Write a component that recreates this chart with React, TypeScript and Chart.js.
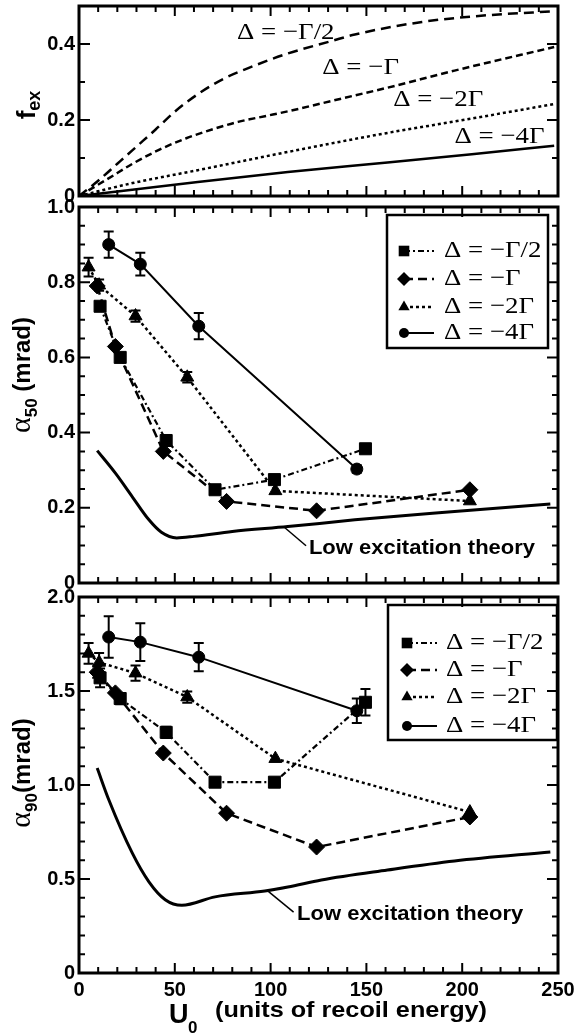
import React, { useEffect, useRef } from "react";
import { Chart, registerables } from "chart.js";

Chart.register(...registerables);

// ---------------- shared x axis ----------------
const X_MIN = 0;
const X_MAX = 250;
const X_STEP = 50;
const X_MINOR = 10;

// ---------------- panel 1 : f_ex ----------------
const FEX_TICKS = [0, 0.2, 0.4];
const fexHalfU = [0, 10, 20, 30, 40, 50, 62, 76, 88, 109, 132, 144, 179, 214, 248];
const fexHalf = [0, 0.04, 0.085, 0.13, 0.175, 0.222, 0.268, 0.31, 0.336, 0.375, 0.408, 0.425, 0.458, 0.476, 0.486];
const fexOneU = [0, 15, 28, 42, 56, 70, 83, 97, 110, 135, 161, 196, 248];
const fexOne = [0, 0.045, 0.085, 0.122, 0.152, 0.176, 0.195, 0.21, 0.224, 0.254, 0.285, 0.33, 0.392];
const fexTwoU = [0, 28, 62, 109, 161, 196, 248];
const fexTwo = [0, 0.034, 0.068, 0.116, 0.166, 0.196, 0.242];
const fexFourU = [0, 30, 62, 109, 161, 205, 248];
const fexFour = [0, 0.018, 0.037, 0.063, 0.088, 0.11, 0.132];

const DETUNING_LABELS = ["Δ = −Γ/2", "Δ = −Γ", "Δ = −2Γ", "Δ = −4Γ"];
const fexLabelU = [82.5, 127, 164, 196];
const fexLabelV = [0.429, 0.337, 0.253, 0.155];

// ---------------- measured detunings ----------------
const uHalf = [11, 21.5, 45.5, 71, 102, 149.5];
const uOne = [9.5, 19, 44, 77, 124, 204];
const uTwo = [5, 10.5, 29.5, 56.5, 102.5, 204];
const uFour = [15.5, 32, 62.5, 145];

// ---------------- panel 2 : alpha_50 ----------------
const A50_TICKS = [0, 0.2, 0.4, 0.6, 0.8, 1.0];
const a50Half = [0.736, 0.6, 0.379, 0.248, 0.275, 0.357];
const a50One = [0.79, 0.629, 0.35, 0.217, 0.192, 0.248];
const a50Two = [0.84, 0.792, 0.71, 0.547, 0.245, 0.218];
const a50Four = [0.9, 0.848, 0.683, 0.303];
const e50Half = [0.01, 0.012, 0.012, 0, 0, 0];
const e50One = [0, 0, 0, 0, 0, 0];
const e50Two = [0.025, 0.015, 0.015, 0.014, 0, 0];
const e50Four = [0.035, 0.03, 0.035, 0.01];
const theory50U = [9.5, 19, 28, 36.5, 43, 51, 60, 80, 109, 144, 196, 246];
const theory50 = [0.352, 0.292, 0.228, 0.168, 0.135, 0.12, 0.124, 0.137, 0.15, 0.168, 0.19, 0.21];
const leader50U = [107, 118.5];
const leader50V = [0.149, 0.099];
const text50At = [120, 0.093];

// ---------------- panel 3 : alpha_90 ----------------
const A90_TICKS = [0, 0.5, 1.0, 1.5, 2.0];
const a90Half = [1.57, 1.46, 1.28, 1.015, 1.015, 1.44];
const a90One = [1.6, 1.49, 1.17, 0.85, 0.67, 0.83];
const a90Two = [1.7, 1.652, 1.595, 1.468, 1.14, 0.856];
const a90Four = [1.787, 1.76, 1.68, 1.395];
const e90Half = [0.05, 0.03, 0.03, 0, 0, 0.07];
const e90One = [0.03, 0, 0, 0, 0, 0];
const e90Two = [0.055, 0.05, 0.04, 0.03, 0, 0];
const e90Four = [0.11, 0.1, 0.075, 0.065];
const theory90U = [9.5, 15.6, 27.7, 36.5, 45, 53.7, 71, 97, 109, 126.5, 161, 196, 246];
const theory90 = [1.09, 0.92, 0.64, 0.485, 0.39, 0.36, 0.405, 0.436, 0.457, 0.495, 0.548, 0.596, 0.644];
const leader90U = [98, 112];
const leader90V = [0.441, 0.324];
const text90At = [113.8, 0.309];

const THEORY_TEXT = "Low excitation theory";

// ---------------- styles ----------------
const SANS = "'Liberation Sans', Arial, Helvetica, sans-serif";
const SERIF = "'Liberation Serif', 'Times New Roman', serif";
const LABEL_FONT = `24px ${SERIF}`;
const LABEL_SX = 1.12;

type Style = { point: string; r: number; dash: number[]; w: number };
const STY_HALF: Style = { point: "rect", r: 8.5, dash: [6, 3, 2, 3], w: 2.2 };
const STY_ONE: Style = { point: "rectRot", r: 8, dash: [9, 5], w: 2.5 };
const STY_TWO: Style = { point: "triangle", r: 7.5, dash: [3, 3], w: 2.5 };
const STY_FOUR: Style = { point: "circle", r: 6, dash: [], w: 2 };
const FEX_DASH = [[10, 6], [7, 4], [3, 3], []];
const FEX_W = [2.5, 2.5, 2.5, 2.5];

type Series = { u: number[]; v: number[]; e: number[]; style: Style; label: string };
type Curve = { u: number[]; v: number[]; dash: number[]; w: number };
type Part = { t: string; font: string; dy: number };

interface Panel {
  top: number;
  bottom: number;
  xh: number;
  xLabels: boolean;
  yMin: number;
  yMax: number;
  yMajor: number;
  yMinor: number;
  yTicks: number[];
  curves: Curve[];
  series: Series[];
  labels: { t: string; u: number; v: number }[];
  legend?: { left: number; right: number; top: number; bottom: number; rows: number[]; markX: number; textX: number };
  leader?: { u: number[]; v: number[]; textU: number; textV: number };
  title: Part[];
  titleX: number;
  titleDy: number;
  xTitle?: boolean;
}

function pts(u: number[], v: number[]) {
  return u.map((x, i) => ({ x, y: v[i] }));
}

function drawMarker(ctx: CanvasRenderingContext2D, style: string, x: number, y: number, r: number) {
  ctx.beginPath();
  if (style === "rect") {
    const s = Math.SQRT1_2 * r;
    ctx.rect(x - s, y - s, 2 * s, 2 * s);
  } else if (style === "rectRot") {
    ctx.moveTo(x - r, y);
    ctx.lineTo(x, y - r);
    ctx.lineTo(x + r, y);
    ctx.lineTo(x, y + r);
    ctx.closePath();
  } else if (style === "triangle") {
    let a = 0;
    ctx.moveTo(x + Math.sin(a) * r, y - Math.cos(a) * r);
    a += (2 * Math.PI) / 3;
    ctx.lineTo(x + Math.sin(a) * r, y - Math.cos(a) * r);
    a += (2 * Math.PI) / 3;
    ctx.lineTo(x + Math.sin(a) * r, y - Math.cos(a) * r);
    ctx.closePath();
  } else {
    ctx.arc(x, y, r, 0, Math.PI * 2);
  }
  ctx.fill();
}

function scaledText(ctx: CanvasRenderingContext2D, s: string, x: number, y: number, font: string, sx: number) {
  ctx.save();
  ctx.font = font;
  ctx.textAlign = "left";
  ctx.textBaseline = "middle";
  ctx.fillStyle = "#000";
  ctx.translate(x, y);
  ctx.scale(sx, 1);
  ctx.fillText(s, 0, 0);
  ctx.restore();
}

function rotatedTitle(ctx: CanvasRenderingContext2D, cx: number, cy: number, parts: Part[]) {
  ctx.save();
  ctx.translate(cx, cy);
  ctx.rotate(-Math.PI / 2);
  ctx.fillStyle = "#000";
  ctx.textAlign = "left";
  ctx.textBaseline = "alphabetic";
  let total = 0;
  parts.forEach((p) => {
    ctx.font = p.font;
    total += ctx.measureText(p.t).width;
  });
  let x = -total / 2;
  parts.forEach((p) => {
    ctx.font = p.font;
    ctx.fillText(p.t, x, p.dy);
    x += ctx.measureText(p.t).width;
  });
  ctx.restore();
}

function panelPlugin(cfg: Panel) {
  return {
    id: "panelDecor",
    afterDatasetsDraw(chart: any) {
      const ctx: CanvasRenderingContext2D = chart.ctx;
      const a = chart.chartArea;
      const xs = chart.scales.x;
      const ys = chart.scales.y;
      ctx.save();
      ctx.strokeStyle = "#000";
      ctx.fillStyle = "#000";
      ctx.setLineDash([]);

      // error bars
      ctx.lineWidth = 2;
      cfg.series.forEach((s) => {
        s.u.forEach((u, i) => {
          const e = s.e[i];
          if (!e) return;
          const px = xs.getPixelForValue(u);
          const y1 = ys.getPixelForValue(s.v[i] + e);
          const y2 = ys.getPixelForValue(s.v[i] - e);
          ctx.beginPath();
          ctx.moveTo(px, y1);
          ctx.lineTo(px, y2);
          ctx.moveTo(px - 5, y1);
          ctx.lineTo(px + 5, y1);
          ctx.moveTo(px - 5, y2);
          ctx.lineTo(px + 5, y2);
          ctx.stroke();
        });
      });

      // leader + theory text
      if (cfg.leader) {
        const L = cfg.leader;
        ctx.lineWidth = 1.5;
        ctx.beginPath();
        ctx.moveTo(xs.getPixelForValue(L.u[0]), ys.getPixelForValue(L.v[0]));
        ctx.lineTo(xs.getPixelForValue(L.u[1]), ys.getPixelForValue(L.v[1]));
        ctx.stroke();
        scaledText(ctx, THEORY_TEXT, xs.getPixelForValue(L.textU), ys.getPixelForValue(L.textV), `bold 20px ${SANS}`, 1.1);
      }

      // curve labels
      cfg.labels.forEach((l) => {
        scaledText(ctx, l.t, xs.getPixelForValue(l.u), ys.getPixelForValue(l.v), LABEL_FONT, LABEL_SX);
      });

      // legend
      if (cfg.legend) {
        const g = cfg.legend;
        const x0 = a.right - g.left;
        const x1 = a.right - g.right;
        const y0 = a.top + g.top;
        const y1 = a.top + g.bottom;
        ctx.fillStyle = "#fff";
        ctx.fillRect(x0, y0, x1 - x0, y1 - y0);
        ctx.lineWidth = 2.5;
        ctx.strokeRect(x0, y0, x1 - x0, y1 - y0);
        ctx.fillStyle = "#000";
        cfg.series.forEach((s, i) => {
          const ry = y0 + g.rows[i];
          const mx = x0 + g.markX;
          ctx.save();
          ctx.lineWidth = s.style.w;
          ctx.setLineDash(s.style.dash);
          ctx.beginPath();
          ctx.moveTo(mx, ry);
          ctx.lineTo(mx + 30, ry);
          ctx.stroke();
          ctx.restore();
          drawMarker(ctx, s.style.point, mx, ry, s.style.r - 1);
          scaledText(ctx, s.label, x0 + g.textX, ry, LABEL_FONT, LABEL_SX);
        });
      }

      // frame
      ctx.setLineDash([]);
      ctx.lineWidth = 3;
      ctx.strokeRect(a.left, a.top, a.right - a.left, a.bottom - a.top);

      // ticks
      ctx.lineWidth = 2;
      ctx.beginPath();
      const nx = Math.round((X_MAX - X_MIN) / X_MINOR);
      for (let i = 0; i <= nx; i++) {
        const v = X_MIN + i * X_MINOR;
        const major = Math.abs(v / X_STEP - Math.round(v / X_STEP)) < 1e-6;
        const len = major ? 10 : 6;
        const px = xs.getPixelForValue(v);
        ctx.moveTo(px, a.bottom);
        ctx.lineTo(px, a.bottom - len);
        ctx.moveTo(px, a.top);
        ctx.lineTo(px, a.top + len);
      }
      const ny = Math.round((cfg.yMax - cfg.yMin) / cfg.yMinor);
      for (let i = 0; i <= ny; i++) {
        const v = cfg.yMin + i * cfg.yMinor;
        const major = Math.abs(v / cfg.yMajor - Math.round(v / cfg.yMajor)) < 1e-6;
        const len = major ? 11 : 6;
        const py = ys.getPixelForValue(v);
        ctx.moveTo(a.left, py);
        ctx.lineTo(a.left + len, py);
        ctx.moveTo(a.right, py);
        ctx.lineTo(a.right - len, py);
      }
      ctx.stroke();

      // y title
      rotatedTitle(ctx, cfg.titleX, (a.top + a.bottom) / 2 + cfg.titleDy, cfg.title);

      // x title
      if (cfg.xTitle) {
        ctx.fillStyle = "#000";
        ctx.textAlign = "left";
        ctx.textBaseline = "alphabetic";
        ctx.font = `bold 27px ${SANS}`;
        ctx.fillText("U", 169, 1023);
        ctx.font = `bold 17px ${SANS}`;
        ctx.fillText("0", 188, 1033);
        ctx.save();
        ctx.font = `bold 22px ${SANS}`;
        const w = ctx.measureText("(units of recoil energy)").width;
        ctx.translate(215, 1017);
        ctx.scale(272 / w, 1);
        ctx.fillText("(units of recoil energy)", 0, 0);
        ctx.restore();
      }
      ctx.restore();
    },
  };
}

function build(canvas: HTMLCanvasElement, cfg: Panel) {
  const datasets: any[] = [];
  cfg.curves.forEach((c) => {
    datasets.push({
      data: pts(c.u, c.v),
      borderColor: "#000",
      borderWidth: c.w,
      borderDash: c.dash,
      pointRadius: 0,
      fill: false,
      cubicInterpolationMode: "monotone",
    });
  });
  cfg.series.forEach((s) => {
    datasets.push({
      data: pts(s.u, s.v),
      borderColor: "#000",
      backgroundColor: "#000",
      borderWidth: s.style.w,
      borderDash: s.style.dash,
      pointStyle: s.style.point,
      pointRadius: s.style.r,
      pointBorderWidth: 1,
      pointBackgroundColor: "#000",
      pointBorderColor: "#000",
      tension: 0,
      fill: false,
    });
  });
  const tickFont = { family: SANS, size: 20, weight: "bold" as const };
  return new Chart(canvas, {
    type: "line",
    data: { datasets },
    options: {
      animation: false,
      responsive: false,
      devicePixelRatio: 1,
      events: [],
      layout: { padding: { left: 0, right: 22, top: cfg.top, bottom: 1036 - cfg.bottom - cfg.xh } },
      plugins: { legend: { display: false }, tooltip: { enabled: false } },
      scales: {
        x: {
          type: "linear",
          min: X_MIN,
          max: X_MAX,
          grid: { display: false, drawTicks: false },
          border: { display: false },
          ticks: {
            display: cfg.xLabels,
            stepSize: X_STEP,
            autoSkip: false,
            maxRotation: 0,
            padding: 5,
            color: "#000",
            font: tickFont,
            callback: (v: any) => String(v),
          },
          afterFit: (s: any) => {
            s.height = cfg.xh;
            s.paddingLeft = 0;
            s.paddingRight = 0;
          },
        },
        y: {
          type: "linear",
          min: cfg.yMin,
          max: cfg.yMax,
          grid: { display: false, drawTicks: false },
          border: { display: false },
          afterBuildTicks: (s: any) => {
            s.ticks = cfg.yTicks.map((value) => ({ value }));
          },
          ticks: {
            padding: 4,
            color: "#000",
            font: tickFont,
            callback: (v: any) => (Number(v) === 0 ? "0" : Number(v).toFixed(1)),
          },
          afterFit: (s: any) => {
            s.width = 79;
            s.paddingTop = 0;
            s.paddingBottom = 0;
          },
        },
      },
    } as any,
    plugins: [panelPlugin(cfg) as any],
  });
}

const seriesStyles = [STY_HALF, STY_ONE, STY_TWO, STY_FOUR];

function makeSeries(us: number[][], vs: number[][], es: number[][]): Series[] {
  return us.map((u, i) => ({ u, v: vs[i], e: es[i], style: seriesStyles[i], label: DETUNING_LABELS[i] }));
}

const panel1: Panel = {
  top: 6,
  bottom: 196,
  xh: 0,
  xLabels: false,
  yMin: 0,
  yMax: 0.5,
  yMajor: 0.2,
  yMinor: 0.1,
  yTicks: FEX_TICKS,
  curves: [
    { u: fexHalfU, v: fexHalf, dash: FEX_DASH[0], w: FEX_W[0] },
    { u: fexOneU, v: fexOne, dash: FEX_DASH[1], w: FEX_W[1] },
    { u: fexTwoU, v: fexTwo, dash: FEX_DASH[2], w: FEX_W[2] },
    { u: fexFourU, v: fexFour, dash: FEX_DASH[3], w: FEX_W[3] },
  ],
  series: [],
  labels: DETUNING_LABELS.map((t, i) => ({ t, u: fexLabelU[i], v: fexLabelV[i] })),
  title: [
    { t: "f", font: `bold 26px ${SANS}`, dy: 0 },
    { t: "ex", font: `bold 18px ${SANS}`, dy: 5 },
  ],
  titleX: 35,
  titleDy: 4,
};

const panel2: Panel = {
  top: 207,
  bottom: 583,
  xh: 0,
  xLabels: false,
  yMin: 0,
  yMax: 1.0,
  yMajor: 0.2,
  yMinor: 0.05,
  yTicks: A50_TICKS,
  curves: [{ u: theory50U, v: theory50, dash: [], w: 3 }],
  series: makeSeries([uHalf, uOne, uTwo, uFour], [a50Half, a50One, a50Two, a50Four], [e50Half, e50One, e50Two, e50Four]),
  labels: [],
  legend: { left: 171, right: 10, top: 8, bottom: 141, rows: [36, 64, 92, 118], markX: 17, textX: 57 },
  leader: { u: leader50U, v: leader50V, textU: text50At[0], textV: text50At[1] },
  title: [
    { t: "α", font: `30px ${SERIF}`, dy: 0 },
    { t: "50", font: `bold 17px ${SANS}`, dy: 7 },
    { t: " (mrad)", font: `bold 24px ${SANS}`, dy: 0 },
  ],
  titleX: 30,
  titleDy: -20,
};

const panel3: Panel = {
  top: 597,
  bottom: 973,
  xh: 32,
  xLabels: true,
  yMin: 0,
  yMax: 2.0,
  yMajor: 0.5,
  yMinor: 0.1,
  yTicks: A90_TICKS,
  curves: [{ u: theory90U, v: theory90, dash: [], w: 3 }],
  series: makeSeries([uHalf, uOne, uTwo, uFour], [a90Half, a90One, a90Two, a90Four], [e90Half, e90One, e90Two, e90Four]),
  labels: [],
  legend: { left: 170, right: 1, top: 8, bottom: 143, rows: [38, 65, 92, 121], markX: 19, textX: 58 },
  leader: { u: leader90U, v: leader90V, textU: text90At[0], textV: text90At[1] },
  title: [
    { t: "α", font: `30px ${SERIF}`, dy: 0 },
    { t: "90", font: `bold 17px ${SANS}`, dy: 7 },
    { t: "(mrad)", font: `bold 24px ${SANS}`, dy: 0 },
  ],
  titleX: 30,
  titleDy: -12,
  xTitle: true,
};

export default function App() {
  const r1 = useRef<HTMLCanvasElement>(null);
  const r2 = useRef<HTMLCanvasElement>(null);
  const r3 = useRef<HTMLCanvasElement>(null);

  useEffect(() => {
    const charts = [build(r1.current!, panel1), build(r2.current!, panel2), build(r3.current!, panel3)];
    return () => charts.forEach((c) => c.destroy());
  }, []);

  const cs: React.CSSProperties = { position: "absolute", left: 0, top: 0, width: 580, height: 1036 };
  return (
    <div style={{ position: "fixed", left: 0, top: 0, width: 580, height: 1036, background: "#fff", overflow: "hidden" }}>
      <canvas ref={r1} width={580} height={1036} style={cs} />
      <canvas ref={r2} width={580} height={1036} style={cs} />
      <canvas ref={r3} width={580} height={1036} style={cs} />
    </div>
  );
}
